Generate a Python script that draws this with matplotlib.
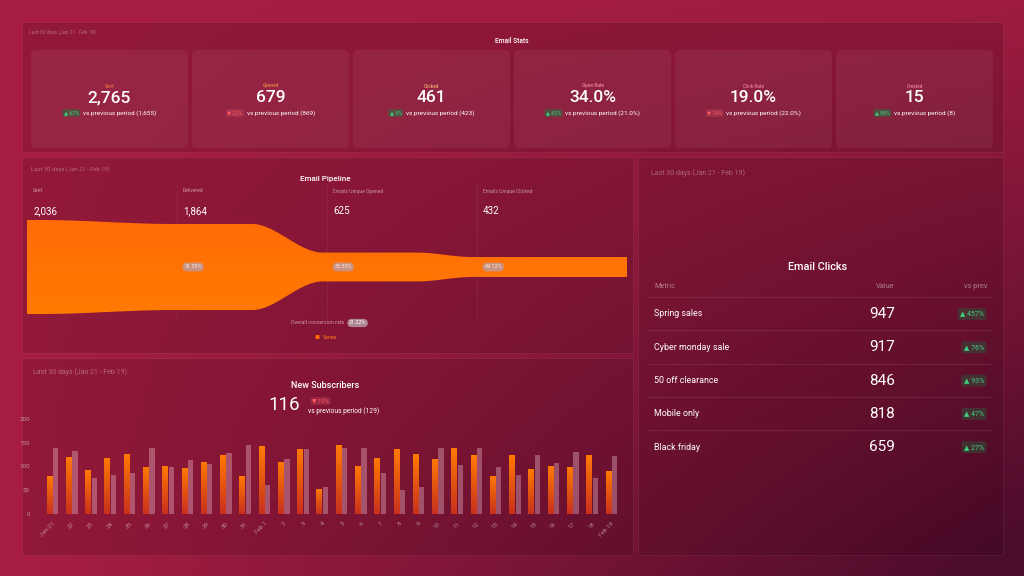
import numpy as np
import matplotlib
matplotlib.use('Agg')
import matplotlib.pyplot as plt
import matplotlib.transforms as mtransforms
from matplotlib.patches import FancyBboxPatch, Rectangle
from matplotlib.colors import to_rgb

plt.rcParams['font.family'] = ['Roboto', 'DejaVu Sans']

W, H = 1024, 576

# ---- data ----
period = 'Last 30 days (Jan 21 - Feb 19)'

kpi_labels = ['Sent', 'Opened', 'Clicked', 'Open Rate', 'Click Rate', 'Created']
kpi_values = ['2,765', '679', '461', '34.0%', '19.0%', '15']
kpi_changes = ['67%', '22%', '9%', '62%', '14%', '88%']
kpi_up = [True, False, True, True, False, True]
kpi_prev = ['1,655', '869', '423', '21.0%', '22.0%', '8']
kpi_label_colors = ['#ff7a45', '#ff9a40', '#ffc27a', '#ff9fb4', '#ff8fa8', '#ff8fa8']

stage_names = ['Sent', 'Delivered', 'Emails Unique Opened', 'Emails Unique Clicked']
stage_values = [2036, 1864, 625, 432]

days = ['Jan 21', '22', '23', '24', '25', '26', '27', '28', '29', '30', '31',
        'Feb 1', '2', '3', '4', '5', '6', '7', '8', '9', '10', '11', '12',
        '13', '14', '15', '16', '17', '18', 'Feb 19']
subs_current = [80, 120, 92, 118, 127, 99, 101, 97, 110, 124, 80, 143, 110, 137, 53,
                145, 101, 117, 136, 126, 116, 139, 124, 81, 124, 94, 101, 100, 124, 90]
subs_previous = [138, 132, 76, 82, 86, 138, 98, 114, 106, 129, 145, 61, 115, 136, 56,
                 138, 138, 87, 50, 56, 138, 103, 138, 99, 82, 124, 107, 130, 76, 122]
subs_total = '116'
subs_prev_total = '129'
subs_change = '10%'

click_names = ['Spring sales', 'Cyber monday sale', '50 off clearance', 'Mobile only', 'Black friday']
click_values = [947, 917, 846, 818, 659]
click_changes = ['457%', '76%', '93%', '47%', '27%']

# ---- figure & background ----
fig = plt.figure(figsize=(W / 100, H / 100), dpi=100)
bg = fig.add_axes([0, 0, 1, 1])
bg.set_xlim(0, W)
bg.set_ylim(H, 0)
bg.axis('off')

yy, xx = np.mgrid[0:1:144j, 0:1:256j]
t = np.clip(0.12 * xx + 0.95 * (xx * yy) ** 1.1, 0, 1)
c0 = np.array(to_rgb('#a81e42'))
c1 = np.array(to_rgb('#4c0c2b'))
grad = c0 * (1 - t[..., None]) + c1 * t[..., None]
bg.imshow(grad, extent=[0, W, H, 0], aspect='auto', interpolation='bilinear', zorder=0)


def panel(x0, y0, x1, y1):
    bg.add_patch(Rectangle((x0, y0), x1 - x0, y1 - y0, fc=(0.15, 0, 0.05, 0.16),
                           ec=(1, 1, 1, 0.06), lw=0.8, zorder=1))


panel(22, 22, 1003, 152)
panel(22, 157, 633, 353)
panel(22, 358, 633, 555)
panel(638, 157, 1003, 555)

renderer = fig.canvas.get_renderer()
TXT = 'white'
FAINT = (1, 1, 1, 0.35)


def width_of(txt):
    return txt.get_window_extent(renderer=renderer).width


def badge_line(cx, y, change, up, rest, fs, rest_fs):
    arrow = '\u25b2 ' if up else '\u25bc '
    if up:
        tc, fc = '#3fcf7f', (0.15, 0.45, 0.25, 0.55)
    else:
        tc, fc = '#ff5a5a', (1, 0.45, 0.5, 0.18)
    b = bg.text(0, y, arrow + change, fontsize=fs, color=tc, va='center', ha='left', zorder=5,
                bbox=dict(boxstyle='round,pad=0.25,rounding_size=0.3', fc=fc, ec='none'))
    r = bg.text(0, y, rest, fontsize=rest_fs, color=TXT, va='center', ha='left', zorder=5)
    bw, rw = width_of(b), width_of(r)
    pad = fs * 0.25 * 100 / 72
    gap = 3
    total = bw + 2 * pad + gap + rw
    left = cx - total / 2
    b.set_x(left + pad)
    r.set_x(left + 2 * pad + bw + gap)


# ---- Email Stats ----
bg.text(29, 32, period, fontsize=3.6, color=FAINT, va='center', zorder=5)
bg.text(512, 41, 'Email Stats', fontsize=4.8, color=TXT, ha='center', va='center',
        fontweight='medium', zorder=5)
card_w, card_gap, card_x0 = 157, 4, 31
for i in range(len(kpi_labels)):
    x0 = card_x0 + i * (card_w + card_gap)
    bg.add_patch(FancyBboxPatch((x0, 50), card_w, 98, boxstyle='round,pad=0,rounding_size=5',
                                fc=(1, 1, 1, 0.06), ec='none', zorder=2))
    cx = x0 + card_w / 2
    bg.text(cx, 86, kpi_labels[i], fontsize=3.4, color=kpi_label_colors[i], ha='center',
            va='center', zorder=5)
    bg.text(cx, 98, kpi_values[i], fontsize=12.5, color=TXT, ha='center', va='center',
            fontweight='medium', zorder=5)
    badge_line(cx, 113, kpi_changes[i], kpi_up[i], 'vs previous period (%s)' % kpi_prev[i], 3.8, 4.6)

# ---- Email Pipeline ----
bg.text(31, 169, period, fontsize=4.2, color=FAINT, va='center', zorder=5)
bg.text(325, 179, 'Email Pipeline', fontsize=5.8, color=TXT, ha='center', va='center',
        fontweight='medium', zorder=5)

fa = fig.add_axes([27 / W, (H - 349) / H, 600 / W, 164 / H])
fa.patch.set_alpha(0)
fa.axis('off')
n = len(stage_values)
half = stage_values[0] / 2 * 164 / 94
fa.set_xlim(0, n)
fa.set_ylim(-half, half)

xs = np.linspace(0, n, 1200)
prof = np.zeros_like(xs)
starts = [0.1, 0.5, 0.6]
for k, x in enumerate(xs):
    i = min(int(x), n - 1)
    v = stage_values[i]
    if i < n - 1:
        f = x - i
        s0 = starts[i]
        if f > s0:
            u = min((f - s0) / (0.97 - s0), 1.0)
            u = u * u * (3 - 2 * u)
            v = v + (stage_values[i + 1] - v) * u
    prof[k] = v / 2
poly = fa.fill_between(xs, -prof, prof, color='none', lw=0)
fgrad = np.linspace(0, 1, 100)[:, None]
fcol = np.array(to_rgb('#ff8000')) * (1 - fgrad[..., None]) + np.array(to_rgb('#ff6608')) * fgrad[..., None]
im = fa.imshow(fcol, extent=[0, n, half, -half], aspect='auto', zorder=2)
im.set_clip_path(poly.get_paths()[0], fa.transData)
fa.set_xlim(0, n)
fa.set_ylim(-half, half)

blend = mtransforms.blended_transform_factory(fa.transData, fa.transAxes)
for i in range(1, n):
    fa.axvline(i, ymin=(349 - 318) / 164, ymax=1, color=(1, 1, 1, 0.06), lw=0.8, zorder=1)
for i in range(n):
    fa.text(i + 0.04, (349 - 191) / 164, stage_names[i], transform=blend, fontsize=3.6,
            color=(1, 1, 1, 0.55), va='center', ha='left')
    fa.text(i + 0.04, (349 - 211) / 164, '{:,}'.format(stage_values[i]), transform=blend,
            fontsize=7, color=TXT, va='center', ha='left')
    if i > 0:
        pct = stage_values[i] / stage_values[i - 1] * 100
        fa.text(i + 0.05, 0, '%.2f%%' % pct, fontsize=3.9, color=(1, 1, 1, 0.8),
                va='center', ha='left', zorder=5,
                bbox=dict(boxstyle='round,pad=0.35,rounding_size=0.8', fc=(0.75, 0.6, 0.62, 0.8), ec='none'))

overall = stage_values[-1] / stage_values[0] * 100
bg.text(344, 323, 'Overall conversion rate', fontsize=3.8, color=(1, 1, 1, 0.55), ha='right',
        va='center', zorder=5)
bg.text(349, 323, '%.2f%%' % overall, fontsize=3.9, color='white', ha='left', va='center', zorder=5,
        bbox=dict(boxstyle='round,pad=0.3,rounding_size=0.8', fc=(0.72, 0.6, 0.64, 0.85), ec='none'))
bg.add_patch(FancyBboxPatch((315.5, 335), 4, 4, boxstyle='round,pad=0,rounding_size=0.6',
                            fc='#ff6a00', ec='none', zorder=5))
bg.text(323, 337.3, 'Series', fontsize=3.8, color='#ff7a20', va='center', zorder=5)

# ---- New Subscribers ----
bg.text(33, 372, period, fontsize=5, color=FAINT, va='center', zorder=5)
bg.text(325, 386, 'New Subscribers', fontsize=6.5, color=TXT, ha='center', va='center',
        fontweight='medium', zorder=5)
bg.text(300, 405, subs_total, fontsize=13.5, color=TXT, ha='right', va='center', zorder=5)
bg.text(312, 401, '\u25bc ' + subs_change, fontsize=4.2, color='#ff5a5a', ha='left', va='center',
        zorder=5, bbox=dict(boxstyle='round,pad=0.25,rounding_size=0.3', fc=(1, 0.45, 0.5, 0.2), ec='none'))
bg.text(308, 411, 'vs previous period (%s)' % subs_prev_total, fontsize=4.8, color=TXT,
        ha='left', va='center', zorder=5)

ax = fig.add_axes([41 / W, (H - 514) / H, 582 / W, 95 / H])
ax.patch.set_alpha(0)
x = np.arange(len(days))
bars = ax.bar(x - 0.15, subs_current, width=0.31, color='none', lw=0)
bgrad = np.linspace(0, 1, 64)[:, None]
bcol = np.array(to_rgb('#ff7a00')) * (1 - bgrad[..., None]) + np.array(to_rgb('#c9301e')) * bgrad[..., None]
for b in bars:
    bi = ax.imshow(bcol, extent=[b.get_x(), b.get_x() + b.get_width(), 0, b.get_height()],
                   aspect='auto', zorder=2)
    bi.set_clip_path(b)
ax.bar(x + 0.16, subs_previous, width=0.27, color=(1, 0.85, 0.9, 0.32), lw=0, zorder=2)
ax.set_xlim(-0.6, len(days) - 0.4)
ax.set_ylim(0, 200)
ax.set_aspect('auto')
ax.set_yticks([0, 50, 100, 150, 200])
ax.set_xticks(x)
ax.set_xticklabels(days, rotation=45, ha='right', rotation_mode='anchor')
ax.tick_params(length=0, labelsize=4.4, labelcolor=(1, 1, 1, 0.5), pad=5)
ax.tick_params(axis='y', pad=8)
for s in ax.spines.values():
    s.set_visible(False)

# ---- Email Clicks ----
bg.text(651, 173, period, fontsize=5, color=FAINT, va='center', zorder=5)
bg.text(818, 267, 'Email Clicks', fontsize=7.8, color=TXT, ha='center', va='center',
        fontweight='medium', zorder=5)
hdr_c = (1, 1, 1, 0.45)
bg.text(654, 287, 'Metric', fontsize=5.3, color=hdr_c, va='center', zorder=5)
bg.text(895, 287, 'Value', fontsize=5.3, color=hdr_c, va='center', ha='right', zorder=5)
bg.text(987, 287, 'vs prev', fontsize=5.3, color=hdr_c, va='center', ha='right', zorder=5)
row_h = 33.3
for i in range(len(click_names)):
    ly = 297 + i * row_h
    bg.plot([648, 992], [ly, ly], color=(1, 1, 1, 0.1), lw=0.6, zorder=4)
    ry = 314 + i * row_h
    bg.text(654, ry, click_names[i], fontsize=6.4, color=TXT, va='center', zorder=5)
    bg.text(895, ry, str(click_values[i]), fontsize=11, color=TXT, va='center', ha='right', zorder=5)
    bg.text(984, ry, '\u25b2 ' + click_changes[i], fontsize=5, color='#3fcf7f', va='center',
            ha='right', zorder=5,
            bbox=dict(boxstyle='round,pad=0.35,rounding_size=0.3', fc=(0.2, 0.3, 0.22, 0.55), ec='none'))

fig.savefig('out.png', dpi=100)
